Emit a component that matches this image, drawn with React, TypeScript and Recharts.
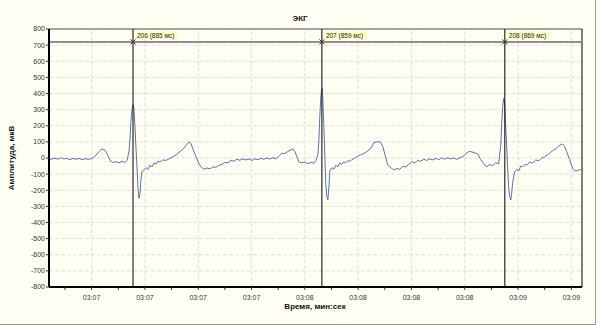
import {
  LineChart,
  Line,
  XAxis,
  YAxis,
  CartesianGrid,
  ReferenceLine,
  ReferenceDot,
} from "recharts";

// window start, ms (03:06.800)
const startMs = 186800;
const endMs = 189300;

// sample times, ms from window start
const timeOffsetMs = [
  0, 14, 28, 42, 56, 70, 84, 98, 113, 127, 141, 155, 169, 183, 197, 211, 225,
  239, 248, 263, 277, 286, 300, 314, 328, 342, 356, 366, 375, 380, 384, 389,
  394, 398, 403, 408, 413, 417, 422, 427, 431, 436, 445, 455, 464, 473, 483,
  492, 502, 511, 520, 534, 548, 563, 577, 591, 605, 619, 633, 647, 656, 666,
  675, 689, 703, 717, 727, 741, 755, 769, 783, 797, 811, 825, 839, 853, 867,
  881, 895, 909, 923, 938, 952, 966, 980, 994, 1008, 1022, 1036, 1050, 1064,
  1078, 1092, 1106, 1120, 1134, 1144, 1153, 1163, 1172, 1186, 1200, 1214, 1228,
  1242, 1252, 1261, 1266, 1270, 1275, 1280, 1284, 1289, 1294, 1298, 1303, 1308,
  1313, 1317, 1327, 1336, 1345, 1355, 1364, 1373, 1383, 1392, 1402, 1411, 1420,
  1434, 1448, 1463, 1477, 1491, 1505, 1514, 1523, 1538, 1552, 1566, 1580, 1589,
  1603, 1617, 1631, 1645, 1659, 1673, 1688, 1702, 1716, 1730, 1744, 1758, 1772,
  1786, 1800, 1814, 1828, 1842, 1856, 1870, 1884, 1898, 1913, 1927, 1941, 1955,
  1969, 1983, 1997, 2011, 2025, 2039, 2053, 2067, 2081, 2095, 2109, 2119, 2123,
  2128, 2133, 2138, 2142, 2147, 2152, 2156, 2161, 2166, 2170, 2175, 2184, 2194,
  2203, 2213, 2222, 2231, 2241, 2255, 2269, 2283, 2297, 2311, 2325, 2339, 2353,
  2367, 2381, 2395, 2409, 2419, 2428, 2442, 2456, 2466, 2480, 2489, 2498,
];

// amplitude, µV
const amplitude = [
  -15, -5, 0, -8, 2, -6, -2, -10, -3, -8, -2, -10, -4, -8, -5, 5, 25, 45, 56,
  48, 15, -15, -28, -22, -30, -20, -28, -15, 40, 120, 220, 300, 330, 310, 200,
  60, -60, -180, -250, -220, -140, -85, -75, -60, -70, -45, -55, -30, -38, -20,
  -25, -12, -15, -5, 5, 15, 30, 45, 62, 85, 100, 90, 55, 10, -35, -60, -70,
  -62, -68, -55, -58, -45, -40, -28, -30, -15, -20, -8, -14, -5, -12, -6, -15,
  -5, -10, -2, -8, 0, -6, 2, -5, 10, 30, 28, 40, 50, 56, 40, 8, -25, -30, -25,
  -35, -28, -32, -15, 20, 110, 250, 380, 432, 380, 200, 0, -150, -240, -260,
  -180, -80, -60, -70, -45, -55, -30, -40, -25, -30, -15, -22, -10, 0, 10, 20,
  28, 40, 55, 70, 95, 100, 102, 70, 0, -43, -60, -74, -65, -70, -52, -55, -40,
  -22, -30, -15, -20, -8, -15, -5, -12, -2, -10, 0, -8, 2, -6, 0, -8, 2, 8, 25,
  40, 38, 32, 25, -10, -35, -56, -40, -48, -30, -35, 80, 200, 320, 370, 330,
  200, 60, -80, -180, -240, -260, -220, -150, -85, -70, -80, -50, -55, -40,
  -45, -25, -30, -12, -18, 0, 8, 20, 35, 50, 60, 80, 87, 70, 40, -10, -65, -80,
  -78, -72, -74,
];

// R-peak markers
const rPeakOffsetMs = [394, 1280, 2138];
const rPeakLabels = ["206 (885 мс)", "207 (859 мс)", "208 (869 мс)"];
const markerLevel = 720;

const xMajorTicks = [
  187000, 187250, 187500, 187750, 188000, 188250, 188500, 188750, 189000,
  189250,
];
const xMinorTicks = [
  186875, 187125, 187375, 187625, 187875, 188125, 188375, 188625, 188875,
  189125,
];
const yTicks = [
  -800, -700, -600, -500, -400, -300, -200, -100, 0, 100, 200, 300, 400, 500,
  600, 700, 800,
];

const data = timeOffsetMs.map((o, i) => ({ t: startMs + o, v: amplitude[i] }));
const allXTicks = [...xMajorTicks, ...xMinorTicks].sort((a, b) => a - b);

const FONT = "'Liberation Sans', Arial, sans-serif";
const BG = "#FFFEF3";
const GRID = "#e0e0da";

function fmtTime(t: number) {
  if (!xMajorTicks.includes(t)) return "";
  const s = Math.floor(t / 1000);
  const mm = String(Math.floor(s / 60)).padStart(2, "0");
  const ss = String(s % 60).padStart(2, "0");
  return `${mm}:${ss}`;
}

function RLabel(props: any) {
  const { viewBox, text } = props;
  if (!viewBox) return null;
  const x = viewBox.x;
  const y = viewBox.y;
  const w = text.length * 3.5;
  return (
    <g>
      <rect x={x + 3} y={y + 2} width={w} height={8} fill="#FFFFC4" />
      <text x={x + 4} y={y + 8.5} fontSize={6.5} fontFamily={FONT} fill="#222">
        {text}
      </text>
    </g>
  );
}

function Cross(props: any) {
  const { cx, cy } = props;
  return (
    <g stroke="#333" strokeWidth={1}>
      <line x1={cx - 2.5} y1={cy - 2.5} x2={cx + 2.5} y2={cy + 2.5} />
      <line x1={cx - 2.5} y1={cy + 2.5} x2={cx + 2.5} y2={cy - 2.5} />
    </g>
  );
}

export default function App() {
  return (
    <div
      style={{
        position: "absolute",
        left: 0,
        top: 0,
        width: 600,
        height: 325,
        background: "#FAFAF7",
      }}
    >
      <div
        style={{
          position: "absolute",
          left: 0,
          top: 0,
          width: 595,
          height: 324,
          background: BG,
          borderRight: "1px solid #9a9a9a",
          borderBottom: "1px solid #9a9a9a",
        }}
      />
      <div style={{ position: "absolute", left: 0, top: 0 }}>
        <LineChart
          width={600}
          height={325}
          data={data}
          margin={{ top: 29, right: 18, bottom: 18, left: 0 }}
        >
          <CartesianGrid vertical={false} stroke={GRID} strokeDasharray="4 2" />
          {xMajorTicks.map((t) => (
            <ReferenceLine
              key={"g" + t}
              x={t}
              stroke={GRID}
              strokeDasharray="4 2"
            />
          ))}
          <XAxis
            type="number"
            dataKey="t"
            domain={[startMs, endMs]}
            ticks={allXTicks}
            interval={0}
            tickFormatter={fmtTime}
            height={20}
            tickSize={3}
            tickMargin={5}
            allowDataOverflow
            axisLine={{ stroke: "#000", strokeWidth: 2 }}
            tickLine={{ stroke: "#333" }}
            tick={{ fontSize: 7, fontFamily: FONT, fill: "#333" }}
          />
          <YAxis
            type="number"
            domain={[-800, 800]}
            ticks={yTicks}
            interval={0}
            width={49}
            tickSize={3}
            tickMargin={1}
            allowDataOverflow
            axisLine={{ stroke: "#000", strokeWidth: 2 }}
            tickLine={{ stroke: "#333" }}
            tick={{ fontSize: 7, fontFamily: FONT, fill: "#333" }}
          />
          <ReferenceLine y={800} stroke="#555" />
          <ReferenceLine x={endMs} stroke="#000" />
          <ReferenceLine y={markerLevel} stroke="#8f8f8f" strokeWidth={2} />
          <Line
            type="linear"
            dataKey="v"
            stroke="#5873A6"
            strokeWidth={1}
            dot={false}
            isAnimationActive={false}
          />
          {rPeakOffsetMs.map((o, i) => (
            <ReferenceLine
              key={"r" + o}
              x={startMs + o}
              stroke="#000"
              label={(p: any) => <RLabel {...p} text={rPeakLabels[i]} />}
            />
          ))}
          {rPeakOffsetMs.map((o) => (
            <ReferenceDot
              key={"d" + o}
              x={startMs + o}
              y={markerLevel}
              r={3}
              shape={(p: any) => <Cross {...p} />}
            />
          ))}
        </LineChart>
      </div>
      <svg
        width={600}
        height={325}
        style={{ position: "absolute", left: 0, top: 0, pointerEvents: "none" }}
      >
        <text
          x={300}
          y={21}
          textAnchor="middle"
          fontSize={8}
          fontWeight="bold"
          fontFamily={FONT}
          fill="#111"
        >
          ЭКГ
        </text>
        <text
          x={315}
          y={309}
          textAnchor="middle"
          fontSize={8}
          fontWeight="bold"
          fontFamily={FONT}
          fill="#111"
        >
          Время, мин:сек
        </text>
        <text
          x={14}
          y={158}
          textAnchor="middle"
          fontSize={8}
          fontWeight="bold"
          fontFamily={FONT}
          fill="#111"
          transform="rotate(-90 14 158)"
        >
          Амплитуда, мкВ
        </text>
      </svg>
    </div>
  );
}
